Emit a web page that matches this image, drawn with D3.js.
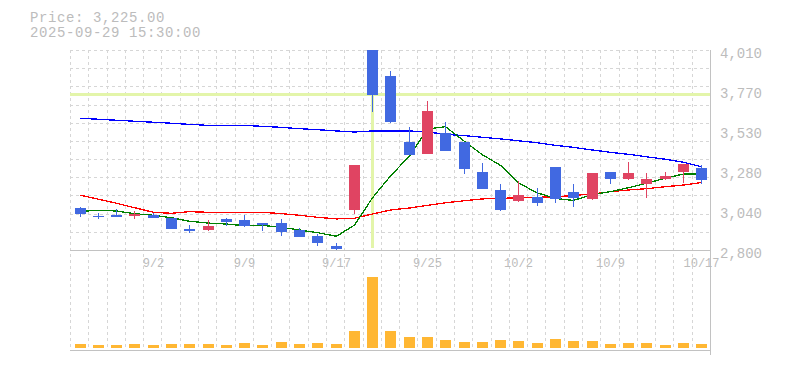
<!DOCTYPE html>
<html>
<head>
<meta charset="utf-8">
<script src="https://cdn.jsdelivr.net/npm/d3@7.9.0/dist/d3.min.js"></script>
<style>
  body { margin: 0; background: #fff; }
  svg { display: block; font-family: "Liberation Mono", monospace; }
</style>
</head>
<body>
<svg id="chart" width="785" height="370"></svg>
<script>
// trading days shown on the chart
const dates = [
  '2025-08-27', '2025-08-28', '2025-08-29', '2025-09-01', '2025-09-02',
  '2025-09-03', '2025-09-04', '2025-09-05', '2025-09-08', '2025-09-09',
  '2025-09-10', '2025-09-11', '2025-09-12', '2025-09-16', '2025-09-17',
  '2025-09-18', '2025-09-19', '2025-09-22', '2025-09-24', '2025-09-25',
  '2025-09-26', '2025-09-29', '2025-09-30', '2025-10-01', '2025-10-02',
  '2025-10-03', '2025-10-06', '2025-10-07', '2025-10-08', '2025-10-09',
  '2025-10-10', '2025-10-14', '2025-10-15', '2025-10-16', '2025-10-17',
];

const open = [3054, 3008, 3014, 3004, 3010, 2994, 2927, 2923, 2988, 2982, 2965, 2963, 2921, 2885, 2824,
  3044, 4010, 3853, 3453, 3383, 3510, 3455, 3272, 3163, 3098, 3119, 3302, 3151, 3110, 3272,
  3230, 3201, 3230, 3274, 3296];
const high = [3060, 3022, 3046, 3034, 3026, 2994, 2951, 2982, 2995, 3012, 2965, 2989, 2935, 2899, 2842,
  3314, 4010, 3883, 3544, 3701, 3574, 3455, 3326, 3199, 3216, 3173, 3302, 3199, 3266, 3272,
  3332, 3266, 3272, 3320, 3314];
const low = [3001, 2986, 3002, 2989, 2995, 2929, 2905, 2917, 2947, 2941, 2917, 2887, 2881, 2826, 2800,
  3018, 3637, 3570, 3377, 3383, 3401, 3262, 3171, 3038, 3089, 3068, 3086, 3062, 3104, 3199,
  3224, 3115, 3224, 3205, 3199];
const close = [3020, 3000, 3002, 3016, 2995, 2929, 2917, 2945, 2971, 2945, 2950, 2911, 2881, 2844, 2808,
  3314, 3738, 3576, 3377, 3641, 3401, 3292, 3171, 3042, 3133, 3086, 3109, 3116, 3266, 3230,
  3266, 3230, 3248, 3320, 3225];
const volume = [56, 42, 42, 56, 42, 56, 56, 56, 42, 70, 42, 84, 56, 70, 56,
  238, 1000, 238, 154, 154, 112, 84, 84, 112, 98, 70, 126, 98, 98, 56,
  70, 70, 42, 70, 56];

// moving averages (short / mid / long)
const maShort = [3034, 3040, 3036, 3020, 3010, 2995, 2974, 2963, 2957, 2947, 2949, 2937, 2921, 2905, 2883,
  2951, 3116, 3248, 3369, 3532, 3546, 3457, 3376, 3312, 3205, 3145, 3112, 3100, 3135, 3153,
  3177, 3204, 3234, 3260, 3260];
const maMid = [3131, 3107, 3083, 3056, 3028, 3022, 3032, 3028, 3028, 3028, 3028, 3020, 3010, 2998, 2988,
  2992, 3018, 3042, 3054, 3070, 3086, 3098, 3109, 3113, 3115, 3119, 3122, 3130, 3139, 3153,
  3163, 3171, 3183, 3193, 3208];
const maLong = [3597, 3591, 3585, 3579, 3573, 3567, 3560, 3554, 3554, 3554, 3548, 3542, 3534, 3528, 3520,
  3514, 3520, 3520, 3520, 3514, 3500, 3492, 3482, 3472, 3461, 3449, 3433, 3421, 3405, 3391,
  3379, 3364, 3349, 3331, 3304];

const header = ['Price: 3,225.00', '2025-09-29 15:30:00'];
const crossDate = '2025-09-19';
const crossPrice = 3741;

const left = 70, right = 710;
const priceTop = 50, priceBottom = 250;
const volTop = 276.7, volBottom = 348, volAxis = 350;

const colors = {
  up: '#e04462',
  down: '#4169e1',
  volume: '#ffb733',
  grid: '#d6d6d6',
  axis: '#c2c2c2',
  text: '#bcbcbc',
  cross: '#e3f5aa',
};

const candles = dates.map((date, i) => ({
  date,
  open: open[i],
  high: high[i],
  low: low[i],
  close: close[i],
  volume: volume[i],
}));

const svg = d3.select('#chart');

const xScale = d3.scaleBand().domain(dates).range([left, right]);
const [lo, hi] = [d3.min(low), d3.max(high)];
const yScale = d3.scaleLinear().domain([lo, hi]).range([priceBottom, priceTop]);
const vScale = d3.scaleLinear().domain([0, d3.max(volume)]).range([volBottom, volTop]);

// body left edge sits 5px inside the cell
const bodyX = (d) => Math.floor(xScale(d)) + 5;
const midX = (d) => bodyX(d) + 5.5;

// grid
const grid = svg.append('g')
  .attr('stroke', colors.grid)
  .attr('stroke-dasharray', '3,3')
  .attr('shape-rendering', 'crispEdges');

grid.selectAll('.vgrid')
  .data(d3.range(dates.length + 1))
  .join('line')
  .attr('x1', (i) => Math.round(left + i * xScale.step()) + 0.5)
  .attr('x2', (i) => Math.round(left + i * xScale.step()) + 0.5)
  .attr('y1', priceTop)
  .attr('y2', volAxis);

grid.selectAll('.hgrid')
  .data(d3.range(12).map((k) => lo + (k * (hi - lo)) / 11))
  .join('line')
  .attr('x1', left)
  .attr('x2', right)
  .attr('y1', (v) => Math.round(yScale(v)) + 0.5)
  .attr('y2', (v) => Math.round(yScale(v)) + 0.5);

// crosshair
svg.append('line')
  .attr('x1', left).attr('x2', right)
  .attr('y1', yScale(crossPrice)).attr('y2', yScale(crossPrice))
  .attr('stroke', colors.cross).attr('stroke-width', 3);
svg.append('line')
  .attr('x1', midX(crossDate)).attr('x2', midX(crossDate))
  .attr('y1', priceTop).attr('y2', priceBottom - 2)
  .attr('stroke', colors.cross).attr('stroke-width', 3);

// axis lines
const axisLines = svg.append('g')
  .attr('stroke', colors.axis)
  .attr('shape-rendering', 'crispEdges');
axisLines.append('line').attr('x1', left).attr('x2', right + 1).attr('y1', priceBottom + 0.5).attr('y2', priceBottom + 0.5);
axisLines.append('line').attr('x1', left).attr('x2', right + 1).attr('y1', volAxis + 0.5).attr('y2', volAxis + 0.5);
axisLines.append('line').attr('x1', right + 0.5).attr('x2', right + 0.5).attr('y1', priceTop).attr('y2', volAxis + 5);

// moving averages
const maLine = (values) => d3.line()
  .x((d, i) => midX(dates[i]))
  .y((d) => yScale(d))(values);

[[maLong, '#0000ff'], [maMid, '#ff0000'], [maShort, '#008000']].forEach(([values, color]) => {
  svg.append('path')
    .attr('d', maLine(values))
    .attr('fill', 'none')
    .attr('stroke', color)
    .attr('stroke-width', 1.3)
    .attr('shape-rendering', 'crispEdges');
});

// candles
const candleG = svg.append('g').attr('shape-rendering', 'crispEdges');
const candleColor = (d) => (d.close > d.open ? colors.up : colors.down);

candleG.selectAll('.wick')
  .data(candles)
  .join('line')
  .attr('x1', (d) => midX(d.date))
  .attr('x2', (d) => midX(d.date))
  .attr('y1', (d) => yScale(d.high))
  .attr('y2', (d) => yScale(d.low))
  .attr('stroke', candleColor);

candleG.selectAll('.body')
  .data(candles)
  .join('rect')
  .attr('x', (d) => bodyX(d.date))
  .attr('width', 11)
  .attr('y', (d) => yScale(Math.max(d.open, d.close)))
  .attr('height', (d) => Math.max(1.5, Math.abs(yScale(d.open) - yScale(d.close))))
  .attr('fill', candleColor);

// volume
svg.append('g')
  .attr('shape-rendering', 'crispEdges')
  .selectAll('rect')
  .data(candles)
  .join('rect')
  .attr('x', (d) => bodyX(d.date))
  .attr('width', 11)
  .attr('y', (d) => vScale(d.volume))
  .attr('height', (d) => volBottom - vScale(d.volume))
  .attr('fill', colors.volume);

// price labels
const priceTicks = d3.range(6).map((k) => lo + (k * (hi - lo)) / 5);
const yAxis = svg.append('g')
  .attr('transform', `translate(${right}, 0)`)
  .call(d3.axisRight(yScale)
    .tickValues(priceTicks)
    .tickSize(0)
    .tickPadding(10)
    .tickFormat((v) => d3.format(',')(Math.round(v / 10) * 10)));
yAxis.select('.domain').remove();
yAxis.selectAll('text')
  .attr('dy', 7)
  .attr('fill', colors.text)
  .style('font-family', '"Liberation Mono", monospace')
  .style('font-size', '14px');

// date labels
const parse = d3.timeParse('%Y-%m-%d');
const xAxis = svg.append('g')
  .attr('transform', `translate(0, ${priceBottom})`)
  .call(d3.axisBottom(xScale)
    .tickValues(dates.filter((d, i) => i % 5 === 4))
    .tickSize(0)
    .tickPadding(8)
    .tickFormat((d) => {
      const t = parse(d);
      return `${t.getMonth() + 1}/${t.getDate()}`;
    }));
xAxis.select('.domain').remove();
xAxis.selectAll('.tick').attr('transform', (d) => `translate(${midX(d)}, 0)`);
xAxis.selectAll('text')
  .attr('fill', colors.text)
  .style('font-family', '"Liberation Mono", monospace')
  .style('font-size', '12px');

// header
svg.append('g')
  .selectAll('text')
  .data(header)
  .join('text')
  .attr('x', 30)
  .attr('y', (d, i) => 22 + i * 15)
  .attr('fill', colors.text)
  .style('font-size', '14px')
  .style('letter-spacing', '0.6px')
  .text((d) => d);
</script>
</body>
</html>
